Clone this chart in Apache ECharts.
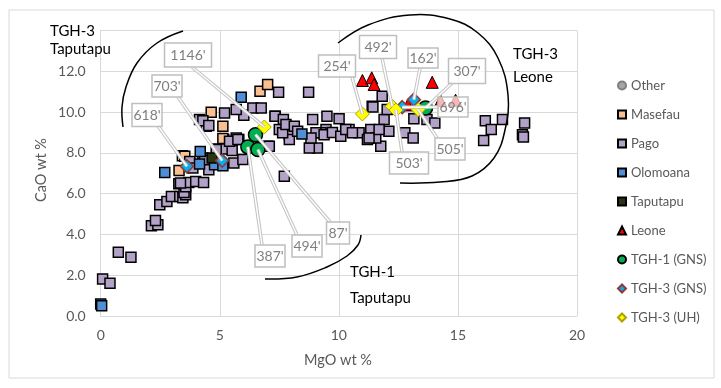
<!DOCTYPE html>
<html><head><meta charset="utf-8">
<script src="https://cdn.jsdelivr.net/npm/echarts@6/dist/echarts.min.js"></script>
<style>html,body{margin:0;padding:0;background:#fff}#c{width:721px;height:388px}</style>
</head><body><div id="c"></div>
<script>
// ---- data (MgO wt %, CaO wt %) ----
const xTicks = [0, 5, 10, 15, 20];
const yTicks = [0, 2, 4, 6, 8, 10, 12, 14];
const seriesNames = ['Other','Masefau','Pago','Olomoana','Taputapu','Leone','TGH-1 (GNS)','TGH-3 (GNS)','TGH-3 (UH)'];
const other = [];
const masefau = [[3.29,7.14],[3.43,7.86],[3.53,7.83],[5.17,8.65],[4.64,9.99],[5.13,9.3],[6.69,11.02],[7.01,11.35],[7.33,9.8],[5.13,8.7]];
const pago = [[0.08,1.82],[0.39,1.6],[0.74,3.13],[1.27,2.88],
  [2.13,4.42],[2.4,4.47],[2.3,4.68],
  [2.48,5.45],[2.78,5.62],[2.97,5.86],[3.32,5.86],[3.45,5.8],[3.57,5.95],[3.5,6.05],
  [3.28,6.49],[3.57,6.34],[3.7,6.55],[3.99,6.6],[4.32,6.55],[3.35,6.52],
  [3.74,7.58],[3.87,7.26],[4.29,7.75],[4.36,7.62],[4.54,7.17],
  [4.92,8.19],[5.2,8.19],[5.52,8.12],[5.59,7.5],[5.97,7.67],[5.8,8.65],[5.69,8.73],[4.85,8.16],[5.41,8.57],[5.76,8.65],
  [4.15,9.63],[4.43,9.3],[5.2,9.96],[4.29,9.58],[4.54,9.34],[6.01,9.84],[5.69,10.12],
  [6.39,10.2],[6.74,10.2],[7.47,10.97],[8.73,10.97],
  [7.32,9.8],[7.67,9.63],[7.5,9.14],[7.92,8.89],[8.9,9.63],[9.46,9.14],[9.1,8.24],[8.76,8.24],[7.71,6.85],
  [7.01,8.32],[7.08,8.32],[7.92,8.65],[7.64,8.98],[7.78,9.39],[8.13,9.3],[8.27,9.06],[9.25,8.98],
  [9.5,9.8],[10.01,9.67],[10.43,9.14],[10.85,8.98],[11.34,9.14],[11.4,10.29],[11.82,10.78],[11.9,9.63],[12.1,9.06],[11.76,8.32],[11.55,8.73],[11.2,8.65],
  [9.04,8.98],[9.38,8.89],[9.73,9.0],[10.08,8.81],[8.83,8.73],
  [10.29,9.14],[10.57,8.98],[11.27,8.73],[11.69,9.14],[11.43,10.25],[12.03,10.12],
  [13.15,9.67],[13.7,9.63],[14.03,9.47],[12.77,8.98],[13.12,8.73],
  [16.15,9.58],[16.4,9.14],[16.08,8.61],[16.87,9.63],[17.8,9.47],[17.71,8.89],[17.75,8.78]];
const olomoana = [[0.0,0.59],[0.04,0.5],[2.69,7.04],[4.15,7.45],[4.18,8.07],[4.78,7.42],[5.13,7.37],[5.9,10.73],[8.45,8.92]];
const taputapu = [[4.68,7.75]];
const leone = [[10.99,11.55],[11.38,11.68],[11.48,11.35],[13.92,11.46],[14.27,10.56],[14.9,10.58],[12.9,10.35]];
const tgh1 = [[6.5,8.89],[6.18,8.29],[6.6,8.16],[13.64,10.2]];
const tgh3gns = [[3.62,7.34],[5.1,7.62],[13.15,10.61],[12.66,10.24]];
const tgh3uh = [[6.87,9.27],[10.99,9.91],[12.24,10.28],[12.4,10.1],[13.33,10.12]];
// callouts: label text, series, point index
const calloutText   = ["618'","703'","162'","696'","1146'","254'","492'","503'","505'","387'","494'","87'","307'"];
const calloutSeries = ['TGH-3 (GNS)','TGH-3 (GNS)','TGH-3 (GNS)','TGH-3 (GNS)','TGH-3 (UH)','TGH-3 (UH)','TGH-3 (UH)','TGH-3 (UH)','TGH-3 (UH)','TGH-1 (GNS)','TGH-1 (GNS)','TGH-1 (GNS)','TGH-1 (GNS)'];
const calloutIndex  = [0,1,2,3,0,1,2,3,4,1,2,0,3];

// ---- layout (pixel boxes for callouts: cx, cy, w, h, anchorX, anchorY) ----
const boxLayout = [
  [147,115,30,23,158,126],[167,86,30,22,178,97],[423,58,30,20,420,68],[453,107,30,20,439,107],
  [188,55,47,24,192,67],[337,66,37,22,352,77],[378,47,37,23,382,58],[409,163,39,22,402,152],[450,149,30,22,437,138],
  [270,256,30,22,262,245],[307,246,30,22,297,235],[338,233,23,22,330,222],[467,71,37,25,452,83]
];

const byName = {'Other':other,'Masefau':masefau,'Pago':pago,'Olomoana':olomoana,'Taputapu':taputapu,'Leone':leone,'TGH-1 (GNS)':tgh1,'TGH-3 (GNS)':tgh3gns,'TGH-3 (UH)':tgh3uh};
const styles = {
  'Other':      {symbol:'circle',  size:7,  color:'#a5a5a5', border:'#7f7f7f', bw:1},
  'Masefau':    {symbol:'rect',    size:10, color:'#fac090', border:'#000000', bw:1.5},
  'Pago':       {symbol:'rect',    size:10, color:'#b3a2c7', border:'#000000', bw:1.5},
  'Olomoana':   {symbol:'rect',    size:10, color:'#4f8fd6', border:'#000000', bw:1.5},
  'Taputapu':   {symbol:'rect',    size:10, color:'#2a3312', border:'#000000', bw:1.5},
  'Leone':      {symbol:'triangle',size:12, color:'#ff0000', border:'#000000', bw:1},
  'TGH-1 (GNS)':{symbol:'circle',  size:14, color:'#00b050', border:'#000000', bw:1.5},
  'TGH-3 (GNS)':{symbol:'diamond', size:13, color:'#00b0f0', border:'#953735', bw:1.5},
  'TGH-3 (UH)': {symbol:'diamond', size:14, color:'#ffff00', border:'#b0a000', bw:1}
};
const FONT = 'Lato, "Liberation Sans", sans-serif';
const chart = echarts.init(document.getElementById('c'), null, {renderer:'canvas'});
const series = seriesNames.map(n => ({
  name:n, type:'scatter', data:byName[n], symbol:styles[n].symbol, symbolSize:styles[n].size,
  itemStyle:{color:styles[n].color, borderColor:styles[n].border, borderWidth:styles[n].bw, opacity:1},
  emphasis:{disabled:true}, silent:true
}));
chart.setOption({
  animation:false,
  backgroundColor:'#fff',
  textStyle:{fontFamily:FONT},
  grid:{left:100.7, right:144, top:30.5, bottom:72},
  xAxis:{type:'value', min:xTicks[0], max:xTicks[xTicks.length-1], interval:5,
    axisLine:{show:true,lineStyle:{color:'#d9d9d9'}}, axisTick:{show:false},
    splitLine:{show:true,lineStyle:{color:'#d9d9d9'}},
    axisLabel:{color:'#595959', fontSize:14, margin:12, fontFamily:FONT}},
  yAxis:{type:'value', min:yTicks[0], max:yTicks[yTicks.length-1], interval:2,
    axisLine:{show:true,lineStyle:{color:'#d9d9d9'}}, axisTick:{show:false},
    splitLine:{show:true,lineStyle:{color:'#d9d9d9'}},
    axisLabel:{color:'#595959', fontSize:14, margin:15, fontFamily:FONT,
      formatter:v => v === 14 ? '' : v.toFixed(1)}},
  legend:{orient:'vertical', left:612, top:74, itemWidth:8, itemHeight:8, itemGap:16,
    textStyle:{color:'#595959', fontSize:13, fontFamily:FONT},
    data:seriesNames.map(n => ({name:n, icon: styles[n].symbol}))},
  series:series
});

// ---- annotations ----
const g = [];
g.push({type:'rect', shape:{x:9,y:10,width:705,height:368}, style:{fill:null, stroke:'#d9d9d9', lineWidth:1}, z:-10, silent:true});
g.push({type:'text', x:338, y:360, style:{text:'MgO wt %', fill:'#595959', font:'14.5px '+FONT, align:'center', verticalAlign:'middle'}});
g.push({type:'text', x:41, y:170, rotation:Math.PI/2, style:{text:'CaO wt %', fill:'#595959', font:'14.5px '+FONT, align:'center', verticalAlign:'middle'}});
// hand-drawn arcs
const arcStyle = {fill:null, stroke:'#000', lineWidth:1.5};
g.push({type:'polyline', shape:{points:[[183,31],[157,43],[137,63],[126,87],[122,107],[123,127]], smooth:0.4}, style:arcStyle, z:20});
g.push({type:'polyline', shape:{points:[[265,279],[297,277],[327,267],[347,256],[358,245],[361,235]], smooth:0.4}, style:arcStyle, z:20});
g.push({type:'polyline', shape:{points:[[338,43],[368,25],[410,15],[450,19],[478,33],[498,58],[508,95],[505,130],[494,158],[472,176],[440,182],[400,183]], smooth:0.4}, style:arcStyle, z:20});
// region texts
const txt = (t,x,y) => g.push({type:'text', x:x, y:y, z:30, style:{text:t, fill:'#000', font:'15px '+FONT, align:'left', verticalAlign:'middle'}});
txt('TGH-3',50,31); txt('Taputapu',50,49);
txt('TGH-3',513,54); txt('Leone',513,77);
txt('TGH-1',350,272); txt('Taputapu',350,298);
// callouts
calloutText.forEach((t,i) => {
  const d = byName[calloutSeries[i]][calloutIndex[i]];
  const p = chart.convertToPixel({gridIndex:0}, d);
  const b = boxLayout[i];
  g.push({type:'line', shape:{x1:p[0],y1:p[1],x2:b[4],y2:b[5]}, style:{stroke:'#c4c4c4', lineWidth:3.5}, z:40});
  g.push({type:'line', shape:{x1:p[0],y1:p[1],x2:b[4],y2:b[5]}, style:{stroke:'#ffffff', lineWidth:1.4}, z:41});
  g.push({type:'rect', shape:{x:b[0]-b[2]/2, y:b[1]-b[3]/2, width:b[2], height:b[3]}, style:{fill:'rgba(255,255,255,0.7)', stroke:'#bfbfbf', lineWidth:1.5}, z:42});
  g.push({type:'text', x:b[0], y:b[1], z:43, style:{text:t, fill:'#7f7f7f', font:'14px '+FONT, align:'center', verticalAlign:'middle'}});
});
chart.setOption({graphic:g});
</script></body></html>
